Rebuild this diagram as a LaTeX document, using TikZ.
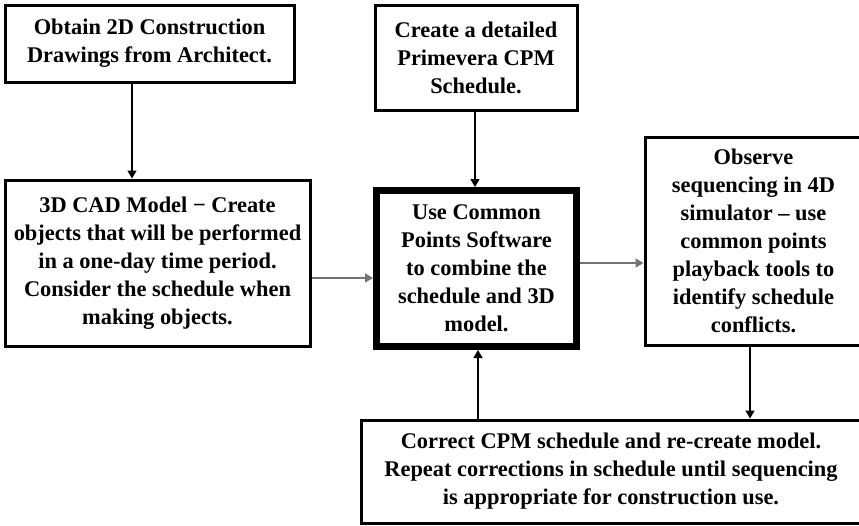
\documentclass[tikz,border=0pt]{standalone}
\usepackage{fontspec}
\setmainfont{Liberation Serif}
\usetikzlibrary{arrows.meta}
\begin{document}
\begin{tikzpicture}[x=1pt,y=-1pt,
  box/.style={draw=black, line width=3pt, fill=white, inner sep=0pt, align=center,
    font=\fontsize{22.4}{28}\selectfont\bfseries},
  thickbox/.style={box, line width=7pt},
  arr/.style={draw=black, line width=1.5pt, -{Triangle[length=8pt,width=9pt]}},
  grayarr/.style={arr, draw=black!55}]
\useasboundingbox (0,0) rectangle (859,525);
\clip (0,0) rectangle (859,525);
\fill[white] (0,0) rectangle (859,525);

\node[box, minimum width=289pt, minimum height=77pt] (A) at (149.5,43.5)
  {Obtain 2D Construction\\Drawings from Architect.};
\node[box, minimum width=202pt, minimum height=105pt] (B) at (476,57.5)
  {Create a detailed\\Primevera CPM\\Schedule.};
\node[box, minimum width=305pt, minimum height=166pt] (C) at (157.5,263)
  {3D CAD Model − Create\\objects that will be performed\\in a one-day time period.\\Consider the schedule when\\making objects.};
\node[thickbox, minimum width=200pt, minimum height=156pt] (D) at (476.5,268.5)
  {Use Common\\Points Software\\to combine the\\schedule and 3D\\model.};
\node[box, minimum width=217pt, minimum height=208pt] (E) at (753.5,241)
  {Observe\\sequencing in 4D\\simulator – use\\common points\\playback tools to\\identify schedule\\conflicts.};
\node[box, minimum width=500pt, minimum height=103pt] (F) at (611,471.5)
  {Correct CPM schedule and re-create model.\\Repeat corrections in schedule until sequencing\\is appropriate for construction use.};

\coordinate (xa) at (132,0);
\coordinate (xb) at (475,0);
\coordinate (yc) at (0,278);
\coordinate (yd) at (0,263);
\coordinate (xe) at (750,0);
\coordinate (xf) at (478,0);

\draw[arr] (A.south -| xa) -- (C.north -| xa);
\draw[arr] (B.south -| xb) -- (D.north -| xb);
\draw[grayarr] (C.east |- yc) -- (D.west |- yc);
\draw[grayarr] (D.east |- yd) -- (E.west |- yd);
\draw[arr] (E.south -| xe) -- (F.north -| xe);
\draw[arr] (F.north -| xf) -- (D.south -| xf);
\end{tikzpicture}
\end{document}
